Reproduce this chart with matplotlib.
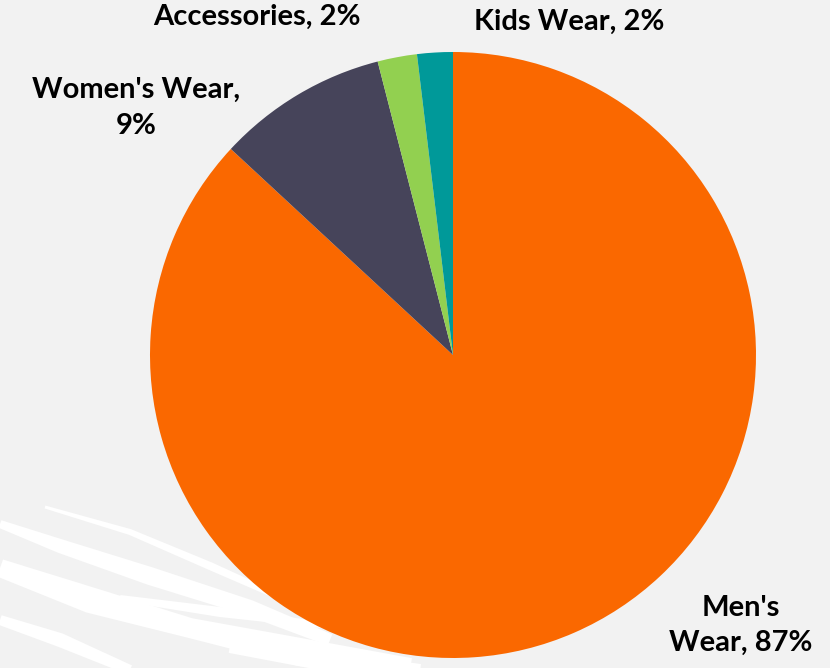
import numpy as np
import matplotlib.pyplot as plt
from matplotlib.patches import Polygon

categories = ["Men's Wear", "Women's Wear", "Accessories", "Kids Wear"]
shares = [86.9, 9.1, 2.1, 1.9]
colors = ["#FA6800", "#46445A", "#92D050", "#009999"]
# label text per slice, broken the way the chart breaks them
label_lines = [["Men's", "Wear, {}%"], ["Women's Wear,", "{}%"],
               ["Accessories, {}%"], ["Kids Wear, {}%"]]
label_pos = [(0.950, -0.892), (-1.046, 0.815), (-0.647, 1.115), (0.383, 1.099)]

plt.rcParams['font.family'] = ['Lato', 'DejaVu Sans']

fig = plt.figure(figsize=(8.3, 6.68), dpi=100)
fig.patch.set_facecolor("#F2F2F2")
ax = fig.add_axes([0, 0, 1, 1])
ax.set_facecolor("#F2F2F2")


def px(x, y):
    # pixel position (y from top) -> data coords of the pie axes
    return (x - 453) / 303, (355 - y) / 303


def stroke(points, widths):
    # white brush band along a centre line, half width per point
    p = np.array(points, float)
    w = np.array(widths, float)
    d = np.gradient(p, axis=0)
    n = np.column_stack([-d[:, 1], d[:, 0]]) / np.hypot(d[:, 0], d[:, 1])[:, None]
    top = p + n * w[:, None]
    bot = p - n * w[:, None]
    outline = np.vstack([top, bot[::-1]])
    ax.add_patch(Polygon([px(x, y) for x, y in outline], closed=True,
                         facecolor="white", edgecolor="none", zorder=0.5))


# decorative brush strokes in the lower left
stroke([(45, 507), (130, 532), (210, 566), (300, 606)], [1.5, 3, 4, 3])
stroke([(0, 524), (60, 546), (150, 576), (250, 608), (330, 640)], [4, 7, 9, 8, 6])
stroke([(0, 568), (90, 600), (190, 628), (300, 652), (410, 670)], [9, 13, 10, 14, 12])
stroke([(0, 620), (60, 640), (130, 670)], [5, 7, 5])
stroke([(120, 598), (220, 612), (330, 626)], [3, 5, 3])
stroke([(230, 645), (320, 660), (420, 672)], [8, 10, 8])

ax.pie(shares, colors=colors, startangle=90, counterclock=False,
       radius=1.0, center=(0, 0), wedgeprops=dict(linewidth=0, zorder=2))

for lines, share, (x, y) in zip(label_lines, shares, label_pos):
    txt = "\n".join(lines).format(round(share))
    ax.text(x, y, txt, ha="center", va="center", fontsize=21,
            fontweight="bold", color="black", linespacing=1.45, zorder=3)

ax.set_xlim(-453 / 303, 377 / 303)
ax.set_ylim(-313 / 303, 355 / 303)
ax.set_aspect("equal")
ax.axis("off")

fig.savefig("out.png", dpi=100, facecolor=fig.get_facecolor())
